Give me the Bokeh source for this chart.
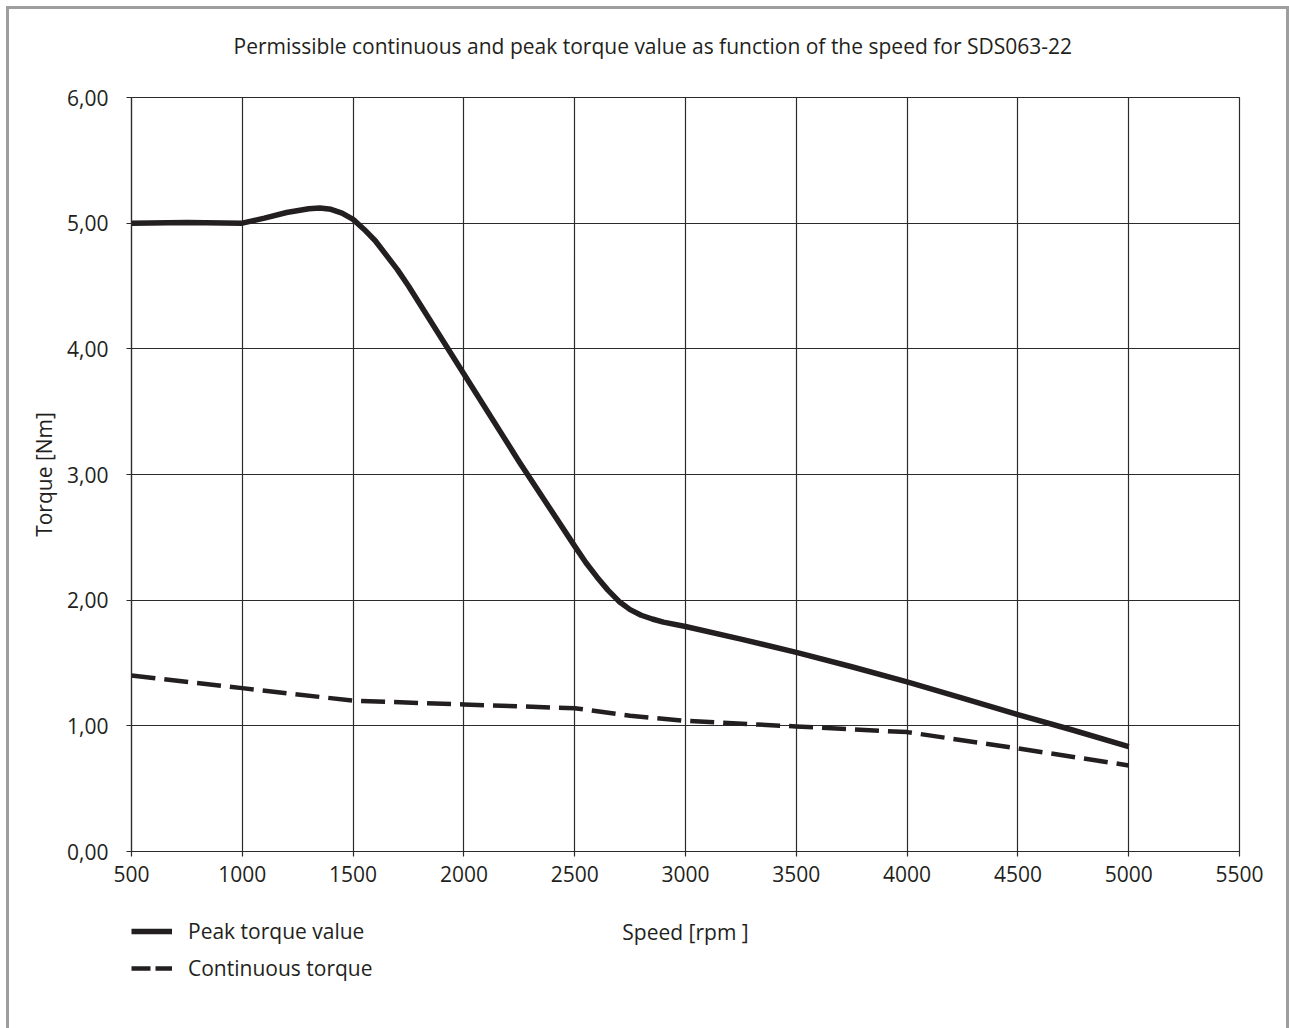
from bokeh.plotting import figure
from bokeh.layouts import column
from bokeh.models import Range1d, FixedTicker, Legend, LegendItem, Label, Title
from bokeh.embed import file_html
from bokeh.resources import INLINE

# ---- data ----
speed_peak = [500, 750, 1000, 1050, 1100, 1200, 1300, 1350, 1400, 1450, 1500, 1550, 1600,
              1700, 1750, 2000, 2250, 2500, 2550, 2600, 2650, 2700, 2750, 2800, 2850,
              2900, 3000, 3250, 3500, 3750, 4000, 4250, 4500, 4750, 5000]
torque_peak = [5.00, 5.005, 5.00, 5.02, 5.04, 5.085, 5.115, 5.12, 5.11, 5.08, 5.03, 4.95, 4.86,
               4.63, 4.50, 3.80, 3.10, 2.43, 2.30, 2.185, 2.08, 1.99, 1.925, 1.88, 1.85,
               1.825, 1.79, 1.69, 1.585, 1.47, 1.35, 1.22, 1.09, 0.965, 0.835]

speed_cont = [500, 1000, 1500, 2000, 2500, 2750, 3000, 3500, 4000, 4500, 5000]
torque_cont = [1.40, 1.30, 1.20, 1.17, 1.14, 1.08, 1.04, 0.995, 0.95, 0.82, 0.685]

x_ticks = [500, 1000, 1500, 2000, 2500, 3000, 3500, 4000, 4500, 5000, 5500]
y_ticks = [0, 1, 2, 3, 4, 5, 6]
y_tick_labels = ["0,00", "1,00", "2,00", "3,00", "4,00", "5,00", "6,00"]

title_text = "Permissible continuous and peak torque value as function of the speed for SDS063-22"
x_label = "Speed [rpm ]"
y_label = "Torque [Nm]"
series_names = ["Peak torque value", "Continuous torque"]

FONT = "Open Sans"
FS = "21px"
TXT = "#231f20"
GRID = "#2b2b2b"
X_START, X_END = 500, 5500

# ---- main chart ----
p = figure(
    frame_width=1108, frame_height=754,
    min_border_left=122, min_border_right=47, min_border_top=88, min_border_bottom=60,
    x_range=Range1d(X_START, X_END), y_range=Range1d(0, 6),
    output_backend="svg", toolbar_location=None,
    title=title_text,
)

p.title.text_font = FONT
p.title.text_font_size = FS
p.title.text_font_style = "normal"
p.title.text_color = TXT
p.title.align = "left"
p.title.offset = 102
p.title.standoff = 0
# empty spacer between the title and the plot frame
p.add_layout(Title(text=" ", text_font_size="6px", standoff=30), "above")

p.outline_line_color = GRID
p.outline_line_width = 1.2

for ax in (p.xaxis[0], p.yaxis[0]):
    ax.major_label_text_font = FONT
    ax.major_label_text_font_size = FS
    ax.major_label_text_color = TXT
    ax.axis_label_text_font = FONT
    ax.axis_label_text_font_size = FS
    ax.axis_label_text_font_style = "normal"
    ax.axis_label_text_color = TXT
    ax.axis_line_color = GRID
    ax.axis_line_width = 1.2
    ax.major_tick_line_color = GRID
    ax.major_tick_line_width = 1.2
    ax.major_tick_in = 0
    ax.major_tick_out = 5
    ax.minor_tick_line_color = None

p.xaxis[0].ticker = FixedTicker(ticks=x_ticks)
p.yaxis[0].ticker = FixedTicker(ticks=y_ticks)
p.yaxis[0].major_label_overrides = {t: l for t, l in zip(y_ticks, y_tick_labels)}
p.yaxis[0].axis_label = y_label
p.xaxis[0].major_label_standoff = 9
p.yaxis[0].major_label_standoff = 18
p.yaxis[0].axis_label_standoff = 6

p.xgrid[0].ticker = FixedTicker(ticks=x_ticks)
p.ygrid[0].ticker = FixedTicker(ticks=y_ticks)
for g in (p.xgrid[0], p.ygrid[0]):
    g.grid_line_color = GRID
    g.grid_line_width = 1.2

PEAK_STYLE = dict(line_color=TXT, line_width=5.5, line_join="round", line_cap="butt")
CONT_STYLE = dict(line_color=TXT, line_width=4.5, line_dash="24 9", line_join="round")

p.line(speed_peak, torque_peak, **PEAK_STYLE)
p.line(speed_cont, torque_cont, **CONT_STYLE)

# ---- strip under the chart: x-axis title and legend ----
# (its y range lies above the torque values, so the key renderers stay out of view)
p2 = figure(
    frame_width=1108, frame_height=117,
    min_border_left=122, min_border_right=47, min_border_top=0, min_border_bottom=0,
    x_range=Range1d(X_START, X_END), y_range=Range1d(100, 217),
    x_axis_location=None, y_axis_location=None,
    output_backend="svg", toolbar_location=None,
)
p2.outline_line_color = None
p2.xgrid.visible = False
p2.ygrid.visible = False

k_peak = p2.line(speed_peak, torque_peak, **PEAK_STYLE)
k_cont = p2.line(speed_cont, torque_cont, line_color=TXT, line_width=4.5,
                 line_dash="19 5", line_join="round")

legend = Legend(
    items=[LegendItem(label=series_names[0], renderers=[k_peak]),
           LegendItem(label=series_names[1], renderers=[k_cont])],
    location=(0, 46), orientation="vertical",
    padding=0, margin=0, spacing=9, glyph_width=41, glyph_height=28,
    label_standoff=16, label_text_font=FONT, label_text_font_size=FS,
    label_text_color=TXT, border_line_alpha=0, background_fill_alpha=0,
)
p2.add_layout(legend, "center")

p2.add_layout(Label(x=(X_START + X_END) / 2, y=197, text=x_label,
                    text_font=FONT, text_font_size=FS, text_color=TXT,
                    text_align="center", text_baseline="middle"))

layout = column(p, p2, spacing=0,
                styles={"border-left": "3px solid #9e9e9e", "border-top": "3px solid #9e9e9e",
                        "border-right": "3px solid #9e9e9e",
                        "margin-left": "6px", "margin-top": "6px"})

open("out.html", "w").write(file_html(layout, INLINE))
